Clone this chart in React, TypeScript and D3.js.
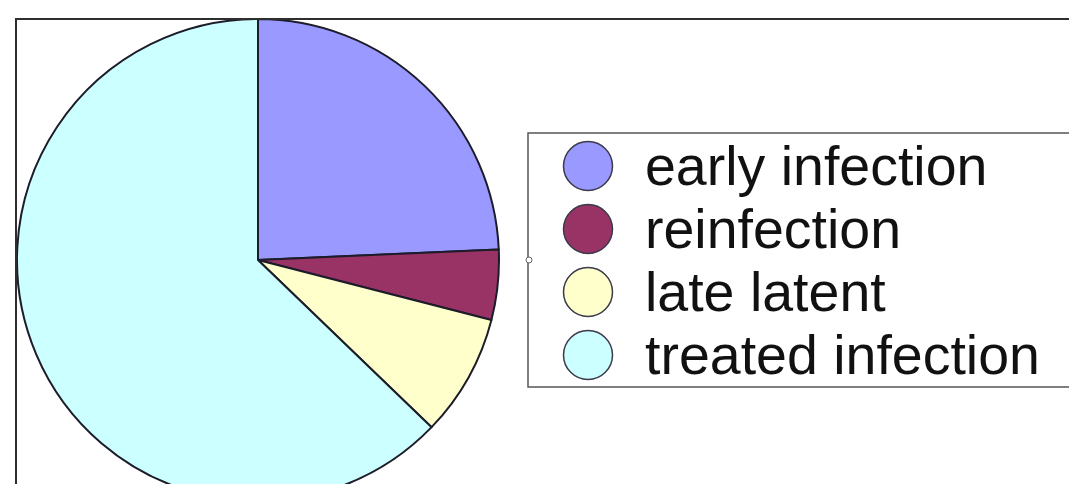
import React, { useEffect, useRef } from 'react';
import * as d3 from 'd3';

const categories = ['early infection', 'reinfection', 'late latent', 'treated infection'];
const shares = [24.3, 4.7, 8.2, 62.8];
const colors = ['#9999ff', '#993366', '#ffffcc', '#ccffff'];

const W = 1069;
const H = 484;

const App: React.FC = () => {
  const svgRef = useRef<SVGSVGElement>(null);

  useEffect(() => {
    if (!svgRef.current) return;
    const svg = d3.select(svgRef.current);
    svg.selectAll('*').remove();

    svg.append('rect').attr('width', W).attr('height', H).attr('fill', '#ffffff');

    // pie
    const cx = 258, cy = 260, r = 241;
    const data = categories.map((name, i) => ({ name, value: shares[i], color: colors[i] }));
    const pie = d3.pie<typeof data[0]>().value(d => d.value).sort(null);
    const arc = d3.arc<d3.PieArcDatum<typeof data[0]>>().innerRadius(0).outerRadius(r);

    const g = svg.append('g').attr('transform', `translate(${cx},${cy})`);

    g.selectAll('path')
      .data(pie(data))
      .enter()
      .append('path')
      .attr('d', arc)
      .attr('fill', d => d.data.color)
      .attr('stroke', '#1c1c2a')
      .attr('stroke-width', 2)
      .attr('stroke-linejoin', 'round');

    // frame lines (top and left)
    svg.append('line')
      .attr('x1', 15).attr('y1', 19).attr('x2', W).attr('y2', 19)
      .attr('stroke', '#2e2e2e').attr('stroke-width', 2);
    svg.append('line')
      .attr('x1', 16).attr('y1', 19).attr('x2', 16).attr('y2', H)
      .attr('stroke', '#2e2e2e').attr('stroke-width', 2);

    // legend
    const legend = svg.append('g');
    legend.append('rect')
      .attr('x', 528).attr('y', 133).attr('width', W - 528 + 5).attr('height', 254)
      .attr('fill', '#ffffff')
      .attr('stroke', '#555555')
      .attr('stroke-width', 1.5);

    const rowY = d3.scalePoint<string>().domain(categories).range([166, 355]);

    categories.forEach((name, i) => {
      const y = rowY(name) as number;
      legend.append('circle')
        .attr('cx', 588).attr('cy', y).attr('r', 24.5)
        .attr('fill', colors[i])
        .attr('stroke', '#3a3a4a')
        .attr('stroke-width', 1.5);
      legend.append('text')
        .attr('x', 645).attr('y', y + 19)
        .attr('font-family', '"Liberation Sans", Arial, sans-serif')
        .attr('font-size', 55.5)
        .attr('fill', '#111111')
        .text(name);
    });

    // selection handle on the legend border
    svg.append('circle')
      .attr('cx', 529).attr('cy', 260).attr('r', 3)
      .attr('fill', '#ffffff').attr('stroke', '#666666').attr('stroke-width', 1);
  }, []);

  return (
    <svg ref={svgRef} width={W} height={H} style={{ position: 'absolute', left: 0, top: 0 }} />
  );
};

export default App;
